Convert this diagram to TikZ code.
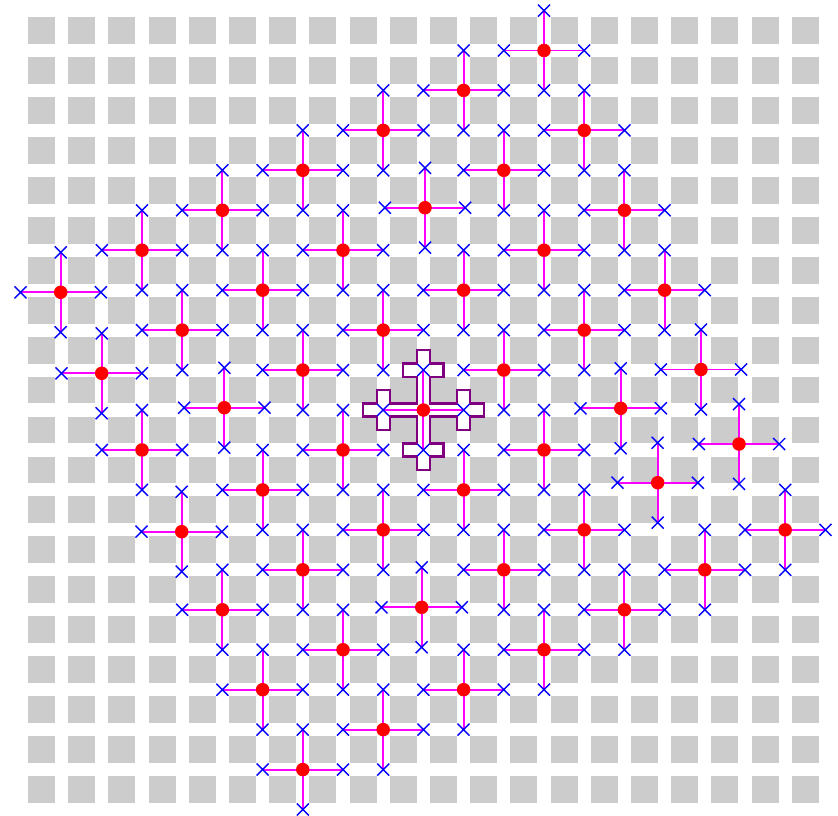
\documentclass[tikz,border=0pt]{standalone}
\usetikzlibrary{calc,shapes.misc}
\definecolor{sqgray}{RGB}{204,204,204}
\definecolor{crosspurple}{RGB}{128,0,128}
\definecolor{armmag}{RGB}{255,0,255}
\definecolor{markblue}{RGB}{0,0,255}
\definecolor{dotred}{RGB}{255,0,0}
\tikzset{
  sqbox/.style={fill=sqgray, draw=none},
  armline/.style={draw=armmag, line width=1.9pt},
  xmark/.style={cross out, draw=markblue, line width=1.4pt, inner sep=0pt, minimum size=10.6pt},
  reddot/.style={circle, fill=dotred, draw=none, inner sep=0pt, minimum size=13.5pt},
  crossoutline/.style={draw=crosspurple, line width=2.2pt}
}
\begin{document}
\begin{tikzpicture}[x=40.2pt, y=-39.95pt]
\useasboundingbox (-1.0323,-0.7635) rectangle (19.8134,19.662);
% grey squares
\foreach \i in {0,...,19}{
  \foreach \j in {0,...,19}{
    \fill[sqbox] (\i-0.336,\j-0.336) rectangle (\i+0.336,\j+0.336);
  }
}
% purple cross outline
\draw[crossoutline] (9.336,8) -- (9.664,8) -- (9.664,8.336) -- (10,8.336) -- (10,8.664) -- (9.664,8.664)
  -- (9.664,9.336) -- (10.336,9.336) -- (10.336,9) -- (10.664,9) -- (10.664,9.336) -- (11,9.336)
  -- (11,9.664) -- (10.664,9.664) -- (10.664,10) -- (10.336,10) -- (10.336,9.664) -- (9.664,9.664)
  -- (9.664,10.336) -- (10,10.336) -- (10,10.664) -- (9.664,10.664) -- (9.664,11) -- (9.336,11)
  -- (9.336,10.664) -- (9,10.664) -- (9,10.336) -- (9.336,10.336) -- (9.336,9.664) -- (8.664,9.664)
  -- (8.664,10) -- (8.336,10) -- (8.336,9.664) -- (8,9.664) -- (8,9.336) -- (8.336,9.336)
  -- (8.336,9) -- (8.664,9) -- (8.664,9.336) -- (9.336,9.336) -- (9.336,8.664) -- (9,8.664)
  -- (9,8.336) -- (9.336,8.336) -- cycle;
% dot centres
\foreach \u/\v [count=\n] in {
  12.5/0.5,
  10.5/1.5,
  8.5/2.5, 13.5/2.5,
  6.5/3.5, 11.5/3.5,
  4.5/4.5, 9.540/4.436, 14.5/4.5,
  2.5/5.5, 7.5/5.5, 12.5/5.5,
  0.478/6.553, 5.5/6.5, 10.5/6.5, 15.5/6.5,
  3.5/7.5, 8.5/7.5, 13.5/7.5,
  1.498/8.581, 6.5/8.5, 11.5/8.5, 16.405/8.486,
  4.547/9.442, 9.5/9.5, 14.408/9.457,
  2.5/10.5, 7.5/10.5, 12.5/10.5, 17.351/10.351,
  5.5/11.5, 10.5/11.5, 15.328/11.319,
  3.488/12.546, 8.5/12.5, 13.5/12.5, 18.5/12.5,
  6.5/13.5, 11.5/13.5, 16.5/13.5,
  4.5/14.5, 9.458/14.438, 14.5/14.5,
  7.5/15.5, 12.5/15.5,
  5.5/16.5, 10.5/16.5,
  8.5/17.5,
  6.5/18.5}{
  \coordinate (d\n) at (\u,\v);
}
% arm end coordinates
\foreach \n in {1,...,49}{
  \foreach \dir/\dx/\dy in {E/1/0, W/-1/0, N/0/-1, S/0/1}{
    \coordinate (d\n\dir) at ($(d\n)+(\dx,\dy)$);
  }
}
% arms
\foreach \n in {1,...,49}{
  \foreach \dir in {E,W,N,S}{
    \draw[armline] (d\n) -- (d\n\dir);
  }
}
% blue crosses
\foreach \n in {1,...,49}{
  \foreach \dir in {E,W,N,S}{
    \node[xmark] (x\n\dir) at (d\n\dir) {};
  }
}
% red dots
\foreach \n in {1,...,49}{
  \node[reddot] (p\n) at (d\n) {};
}
\end{tikzpicture}
\end{document}
